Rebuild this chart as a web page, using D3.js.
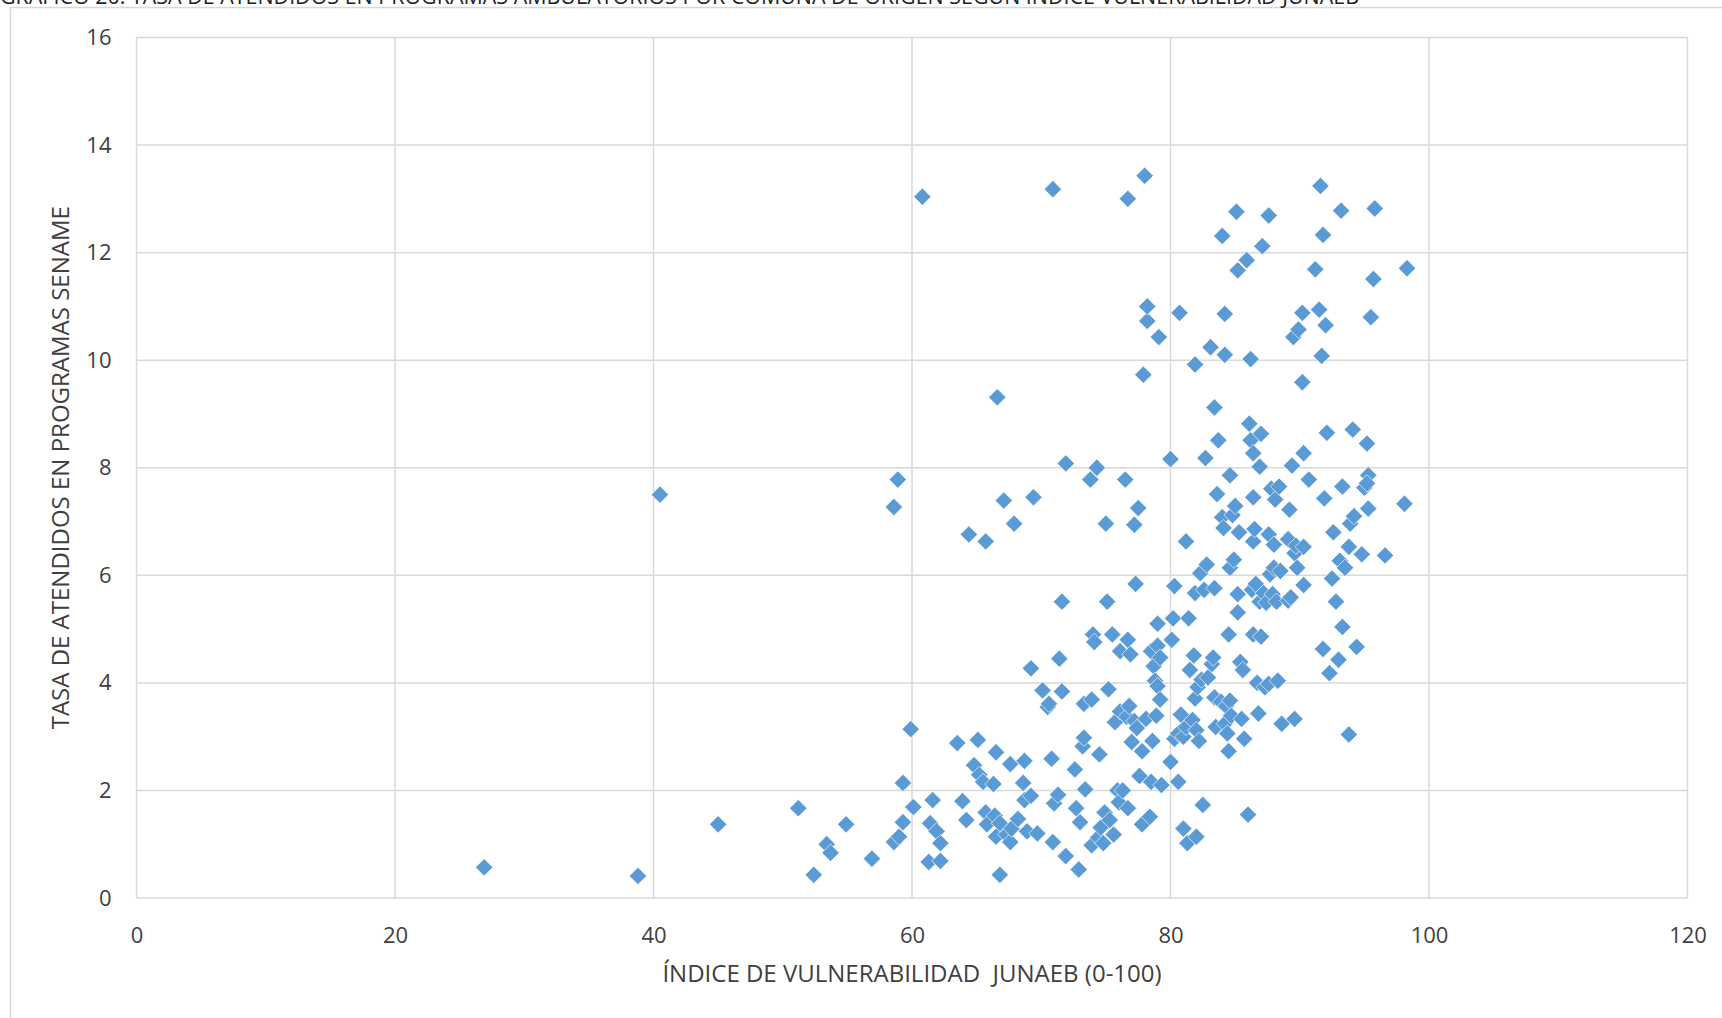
<!DOCTYPE html>
<html>
<head>
<meta charset="utf-8">
<script src="https://cdn.jsdelivr.net/npm/d3@7"></script>
<style>
  body { margin: 0; background: #fff; }
  svg { display: block; font-family: "Open Sans", "Noto Sans", sans-serif; }
</style>
</head>
<body>
<svg id="chart" width="1722" height="1018"></svg>
<script>
// Values: x = índice de vulnerabilidad, y = tasa de atendidos
const vulnerabilidad = [
  26.9, 38.8, 40.5, 45.0, 51.2, 53.4, 53.7, 54.9, 52.4, 56.9, 58.6, 59.0, 59.3, 59.3, 59.9, 60.1,
  58.6, 58.9, 60.8, 61.3, 61.4, 61.6, 61.9, 62.2, 62.2, 63.5, 63.9, 64.2, 64.4, 64.8, 65.1, 65.2,
  65.5, 65.7, 65.7, 65.8, 66.3, 66.4, 66.5, 66.6, 66.8, 66.5, 66.8, 67.1, 67.3, 67.6, 67.6, 67.7,
  67.9, 68.2, 68.7, 68.6, 68.7, 68.9, 69.2, 69.2, 69.4, 69.7, 70.1, 70.5, 70.6, 70.8, 70.9, 70.9,
  71.0, 71.3, 71.4, 71.6, 71.6, 71.9, 71.9, 72.6, 72.7, 72.9, 73.0, 73.2, 73.3, 73.3, 73.4, 73.8,
  73.9, 73.9, 74.0, 74.1, 74.3, 74.4, 74.5, 74.6, 74.8, 74.9, 75.0, 75.1, 75.2, 75.3, 75.5, 75.6,
  75.7, 75.9, 76.0, 76.1, 76.1, 76.3, 76.5, 76.7, 76.6, 76.7, 76.7, 76.8, 76.9, 77.0, 77.2, 77.2,
  77.4, 77.3, 77.5, 77.6, 77.8, 77.8, 77.9, 78.0, 78.1, 78.2, 78.2, 78.4, 78.5, 78.5, 78.6, 78.7,
  78.8, 78.9, 79.0, 79.0, 79.0, 79.1, 79.2, 79.2, 79.3, 80.0, 80.0, 80.1, 80.2, 80.3, 80.3, 80.6,
  80.6, 80.7, 80.8, 81.0, 81.0, 81.2, 81.2, 81.3, 81.4, 81.5, 81.7, 81.8, 81.9, 81.9, 81.9, 82.0,
  82.0, 82.1, 82.2, 82.3, 82.4, 82.5, 82.6, 82.7, 82.8, 82.9, 83.1, 83.2, 83.3, 83.4, 83.4, 83.4,
  83.5, 83.6, 83.7, 83.9, 84.0, 84.0, 84.1, 84.2, 84.2, 84.2, 84.3, 84.4, 84.5, 84.5, 84.6, 84.6,
  84.6, 84.7, 84.8, 84.9, 85.0, 85.1, 85.2, 85.2, 85.2, 85.3, 85.4, 85.5, 85.6, 85.7, 85.9, 86.0,
  86.1, 86.2, 86.2, 86.3, 86.4, 86.4, 86.4, 86.4, 86.5, 86.6, 86.7, 86.8, 86.9, 86.9, 87.0, 87.0,
  87.1, 87.2, 87.3, 87.4, 87.6, 87.6, 87.6, 87.7, 87.8, 87.9, 88.0, 88.0, 88.1, 88.2, 88.3, 88.4,
  88.5, 88.6, 89.1, 89.1, 89.2, 89.3, 89.4, 89.5, 89.6, 89.6, 89.7, 89.8, 89.9, 90.2, 90.2, 90.3,
  90.3, 90.3, 90.7, 91.2, 91.6, 91.5, 91.7, 91.8, 91.8, 91.9, 92.0, 92.1, 92.3, 92.5, 92.6, 92.8,
  93.0, 93.1, 93.2, 93.3, 93.3, 93.5, 93.8, 93.8, 93.9, 94.1, 94.2, 94.4, 94.8, 95.0, 95.2, 95.3,
  95.3, 95.2, 95.5, 95.7, 95.8, 96.6, 98.1, 98.3
];
const tasaAtendidos = [
  0.57, 0.41, 7.50, 1.37, 1.67, 1.00, 0.84, 1.37, 0.43, 0.73, 1.04, 1.14, 1.41, 2.14, 3.14, 1.69,
  7.27, 7.78, 13.04, 0.67, 1.39, 1.82, 1.24, 1.02, 0.69, 2.88, 1.80, 1.45, 6.76, 2.47, 2.94, 2.29,
  2.16, 6.63, 1.59, 1.37, 2.12, 1.53, 2.71, 9.31, 0.43, 1.14, 1.39, 7.39, 1.18, 2.49, 1.04, 1.29,
  6.96, 1.47, 2.55, 2.14, 1.82, 1.24, 1.90, 4.27, 7.45, 1.20, 3.86, 3.55, 3.61, 2.59, 13.18, 1.04,
  1.76, 1.92, 4.45, 5.51, 3.84, 8.08, 0.78, 2.39, 1.67, 0.53, 1.41, 2.82, 2.98, 3.61, 2.02, 7.78,
  3.69, 0.98, 4.90, 4.76, 8.00, 1.12, 2.67, 1.31, 1.02, 1.59, 6.96, 5.51, 3.88, 1.45, 4.90, 1.18,
  3.27, 2.00, 1.78, 4.59, 3.47, 2.00, 7.78, 13.00, 3.37, 4.80, 1.67, 3.57, 4.53, 2.90, 6.94, 3.29,
  3.16, 5.84, 7.25, 2.27, 2.73, 1.37, 9.73, 13.43, 3.33, 10.73, 11.00, 1.51, 2.16, 4.59, 2.92, 4.31,
  4.04, 3.39, 5.10, 4.69, 3.94, 10.43, 3.69, 4.47, 2.10, 8.16, 2.53, 4.80, 5.20, 5.80, 2.96, 3.06,
  2.16, 10.88, 3.41, 1.29, 3.00, 6.63, 3.18, 1.02, 5.20, 4.24, 3.31, 4.51, 3.71, 9.92, 5.67, 3.12,
  1.14, 3.92, 2.92, 6.04, 4.06, 1.73, 5.73, 8.18, 6.20, 4.10, 10.24, 4.35, 4.47, 5.76, 9.12, 3.73,
  3.18, 7.51, 8.51, 3.65, 7.08, 12.31, 6.88, 3.24, 10.86, 10.10, 3.57, 3.06, 2.73, 4.90, 7.86, 6.14,
  3.67, 3.39, 7.12, 6.29, 7.29, 12.76, 11.67, 5.65, 5.31, 6.80, 4.39, 3.33, 4.24, 2.96, 11.86, 1.55,
  8.82, 10.02, 8.51, 5.73, 6.63, 4.90, 8.27, 7.45, 6.86, 5.84, 4.00, 3.43, 8.02, 5.51, 8.63, 4.86,
  12.12, 5.67, 3.92, 5.49, 12.69, 6.76, 3.98, 6.02, 7.61, 5.65, 6.14, 6.57, 7.41, 5.51, 4.04, 7.65,
  6.08, 3.24, 5.53, 6.67, 7.22, 5.59, 8.04, 10.43, 3.33, 6.41, 6.55, 6.14, 10.57, 9.59, 10.88, 8.27,
  6.53, 5.82, 7.78, 11.69, 13.24, 10.94, 10.08, 12.33, 4.63, 7.43, 10.65, 8.65, 4.18, 5.94, 6.80, 5.51,
  4.43, 6.27, 12.78, 5.04, 7.65, 6.14, 3.04, 6.53, 6.96, 8.71, 7.10, 4.67, 6.39, 7.63, 8.45, 7.24,
  7.86, 7.71, 10.80, 11.51, 12.82, 6.37, 7.33, 11.71
];
const xTicks = [0, 20, 40, 60, 80, 100, 120];
const yTicks = [0, 2, 4, 6, 8, 10, 12, 14, 16];

const chartTitle = 'GRÁFICO 20: TASA DE ATENDIDOS EN PROGRAMAS AMBULATORIOS POR COMUNA DE ORIGEN SEGÚN ÍNDICE VULNERABILIDAD JUNAEB';
const xTitle = 'ÍNDICE DE VULNERABILIDAD  JUNAEB (0-100)';
const yTitle = 'TASA DE ATENDIDOS EN PROGRAMAS SENAME';

const points = vulnerabilidad.map((x, i) => ({x: x, y: tasaAtendidos[i]}));

const svg = d3.select('#chart');

// plot area
const plot = {left: 136.5, right: 1687.5, top: 37.5, bottom: 898};
const gridColor = '#d9d9d9';
const textColor = '#404040';
const markerColor = '#5b9bd5';

const xScale = d3.scaleLinear().domain([0, 120]).range([plot.left, plot.right]);
const yScale = d3.scaleLinear().domain([0, 16]).range([plot.bottom, plot.top]);

// outer chart frame (runs off the right and bottom of the picture)
svg.append('rect')
    .attr('x', 10.5).attr('y', 7.5)
    .attr('width', 1800).attr('height', 1100)
    .attr('fill', 'none')
    .attr('stroke', gridColor)
    .attr('stroke-width', 1.5);

// title, cut off at the top like in the source page
const title = svg.append('text')
    .attr('x', 0).attr('y', 4)
    .attr('font-size', 18)
    .attr('fill', '#222')
    .text(chartTitle);
// squeeze it to the width it has in the picture
const tw = title.node().getComputedTextLength();
title.attr('font-size', 18 * 1360 / tw);

// gridlines
svg.append('g')
    .selectAll('line')
    .data(yTicks)
    .enter()
    .append('line')
    .attr('x1', plot.left).attr('x2', plot.right)
    .attr('y1', (d) => yScale(d)).attr('y2', (d) => yScale(d))
    .attr('stroke', gridColor)
    .attr('stroke-width', 1.5);
svg.append('g')
    .selectAll('line')
    .data(xTicks)
    .enter()
    .append('line')
    .attr('x1', (d) => xScale(d)).attr('x2', (d) => xScale(d))
    .attr('y1', plot.top).attr('y2', plot.bottom)
    .attr('stroke', gridColor)
    .attr('stroke-width', 1.5);

// axes (labels only, lines come from the grid)
const yAxis = svg.append('g')
    .attr('transform', `translate(${plot.left},0)`)
    .call(d3.axisLeft(yScale).tickValues(yTicks).tickSize(0).tickPadding(25));
const xAxis = svg.append('g')
    .attr('transform', `translate(0,${plot.bottom})`)
    .call(d3.axisBottom(xScale).tickValues(xTicks).tickSize(0).tickPadding(29));
[xAxis, yAxis].forEach((ax) => {
    ax.select('.domain').remove();
    ax.selectAll('text')
        .attr('font-size', 22)
        .attr('font-family', '"Open Sans", sans-serif')
        .attr('fill', textColor);
});

// points: diamonds
const diamond = d3.symbol().type(d3.symbolSquare).size(150);
svg.append('g')
    .selectAll('path')
    .data(points)
    .enter()
    .append('path')
    .attr('d', diamond)
    .attr('transform', (d) => `translate(${xScale(d.x)},${yScale(d.y)}) rotate(45)`)
    .attr('fill', markerColor)
    .attr('stroke', '#fff')
    .attr('stroke-width', 0.6);

// axis titles
svg.append('text')
    .attr('x', (plot.left + plot.right) / 2)
    .attr('y', 982)
    .attr('text-anchor', 'middle')
    .attr('font-size', 24)
    .attr('fill', textColor)
    .style('white-space', 'pre')
    .text(xTitle);

svg.append('text')
    .attr('transform', `translate(69,${(plot.top + plot.bottom) / 2}) rotate(-90)`)
    .attr('text-anchor', 'middle')
    .attr('font-size', 24)
    .attr('fill', textColor)
    .text(yTitle);
</script>
</body>
</html>
